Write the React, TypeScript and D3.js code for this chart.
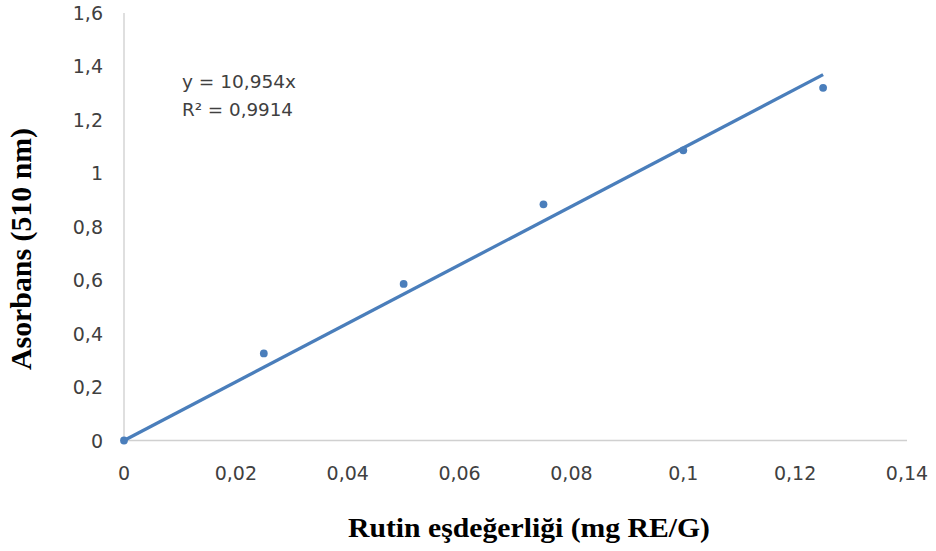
import React from "react";
import * as d3 from "d3";

const xValues = [0, 0.025, 0.05, 0.075, 0.1, 0.125];
const yValues = [0, 0.326, 0.586, 0.884, 1.086, 1.32];
const slope = 10.954;
const xTicks = [0, 0.02, 0.04, 0.06, 0.08, 0.1, 0.12, 0.14];
const yTicks = [0, 0.2, 0.4, 0.6, 0.8, 1, 1.2, 1.4, 1.6];
const equationLines = ["y = 10,954x", "R² = 0,9914"];
const xTitle = "Rutin eşdeğerliği (mg RE/G)";
const yTitle = "Asorbans (510 nm)";

const W = 936;
const H = 551;
const fmt = (v: number) => String(+v.toFixed(3)).replace(".", ",");

export default function App() {
  const x = d3.scaleLinear().domain([0, 0.14]).range([124, 907]);
  const y = d3.scaleLinear().domain([0, 1.6]).range([440.5, 13]);
  const blue = "#4a7ebb";
  const lineGen = d3
    .line<number>()
    .x((d) => x(d))
    .y((d) => y(slope * d));
  const tickFont = "'DejaVu Sans', sans-serif";
  return (
    <svg
      width={W}
      height={H}
      style={{ position: "absolute", left: 0, top: 0, background: "#fff" }}
    >
      <rect width={W} height={H} fill="#fff" />
      <line x1={x(0)} x2={x(0)} y1={y(1.6)} y2={y(0)} stroke="#bfbfbf" strokeWidth={1} />
      <line x1={x(0)} x2={x(0.14)} y1={y(0)} y2={y(0)} stroke="#d0d0d0" strokeWidth={1.5} />
      {yTicks.map((t) => (
        <text
          key={"y" + t}
          x={103}
          y={y(t) + 7}
          textAnchor="end"
          fontFamily={tickFont}
          fontSize={19}
          fill="#404040"
        >
          {fmt(t)}
        </text>
      ))}
      {xTicks.map((t) => (
        <text
          key={"x" + t}
          x={x(t)}
          y={480}
          textAnchor="middle"
          fontFamily={tickFont}
          fontSize={19}
          fill="#404040"
        >
          {fmt(t)}
        </text>
      ))}
      <path
        d={lineGen([0, 0.125]) || ""}
        stroke={blue}
        strokeWidth={3.3}
        fill="none"
      />
      {xValues.map((xv, i) => (
        <circle key={i} cx={x(xv)} cy={y(yValues[i])} r={3.9} fill={blue} />
      ))}
      {equationLines.map((l, i) => (
        <text
          key={l}
          x={182}
          y={87.5 + i * 28}
          fontFamily={tickFont}
          fontSize={17.5}
          fill="#404040"
          textLength={i === 0 ? 114 : 111}
          lengthAdjust="spacingAndGlyphs"
        >
          {l}
        </text>
      ))}
      <text
        x={529}
        y={537}
        textAnchor="middle"
        fontFamily="'Liberation Serif', serif"
        fontWeight="bold"
        fontSize={28}
        fill="#000"
        textLength={362}
        lengthAdjust="spacingAndGlyphs"
      >
        {xTitle}
      </text>
      <text
        transform={`translate(31,249) rotate(-90)`}
        textAnchor="middle"
        fontFamily="'Liberation Serif', serif"
        fontWeight="bold"
        fontSize={29}
        fill="#000"
        textLength={242}
        lengthAdjust="spacingAndGlyphs"
      >
        {yTitle}
      </text>
    </svg>
  );
}
